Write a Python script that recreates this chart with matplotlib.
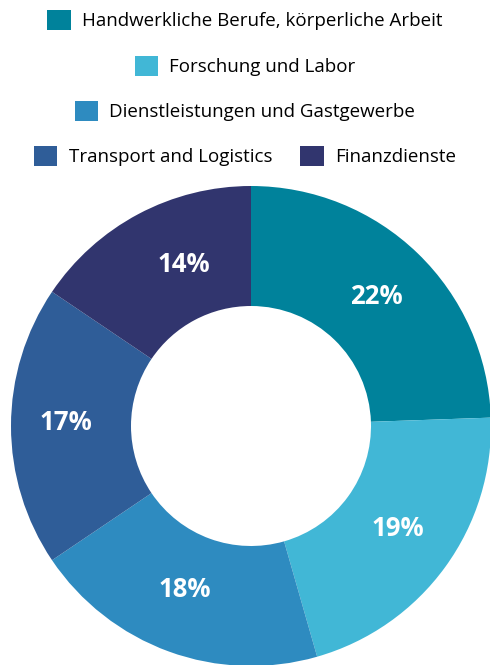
import matplotlib.pyplot as plt
from matplotlib.patches import Patch

plt.rcParams['font.family'] = ['Open Sans', 'DejaVu Sans']

categories = ['Handwerkliche Berufe, körperliche Arbeit', 'Forschung und Labor',
              'Dienstleistungen und Gastgewerbe', 'Transport and Logistics', 'Finanzdienste']
shares = [22, 19, 18, 17, 14]
colors = ['#00829b', '#41b7d6', '#2e8bc0', '#2f5d98', '#31356e']

W, H = 490, 665
R = 240  # outer radius in pixels
fig = plt.figure(figsize=(W / 100, H / 100), dpi=100)

# donut
ax = fig.add_axes([11 / W, -1 / H, 2 * R / W, 2 * R / H])
wedges, texts, autotexts = ax.pie(
    shares, colors=colors, startangle=90, counterclock=False, radius=1.0,
    wedgeprops=dict(width=0.5, edgecolor='none'),
    autopct=lambda p: f'{p * sum(shares) / 100:.0f}%', pctdistance=0.75)

# small nudges (pixels) so the labels sit where the original puts them
nudges = [(0, 0), (1, 3), (-5, 6), (-5, 3), (17, 3)]
for t, (dx, dy) in zip(autotexts, nudges):
    x, y = t.get_position()
    t.set_position((x + dx / R, y + dy / R))
    t.set_color('white')
    t.set_fontsize(18.5)
    t.set_fontweight('bold')
ax.set_xlim(-1, 1)
ax.set_ylim(-1, 1)
ax.set_aspect('equal')
ax.axis('off')

# legend rows, centred like the original
rows = [[0], [1], [2], [3, 4]]
row_y = [20, 66, 111, 156]
for idx, y in zip(rows, row_y):
    handles = [Patch(facecolor=colors[i], edgecolor='none', label=categories[i]) for i in idx]
    fig.legend(handles=handles, loc='center', bbox_to_anchor=(0.5, 1 - y / H),
               ncol=len(idx), frameon=False, fontsize=13.5,
               handlelength=1.25, handleheight=1.25, handletextpad=0.6,
               columnspacing=1.5, borderpad=0, borderaxespad=0)

fig.savefig('out.png', dpi=100)
